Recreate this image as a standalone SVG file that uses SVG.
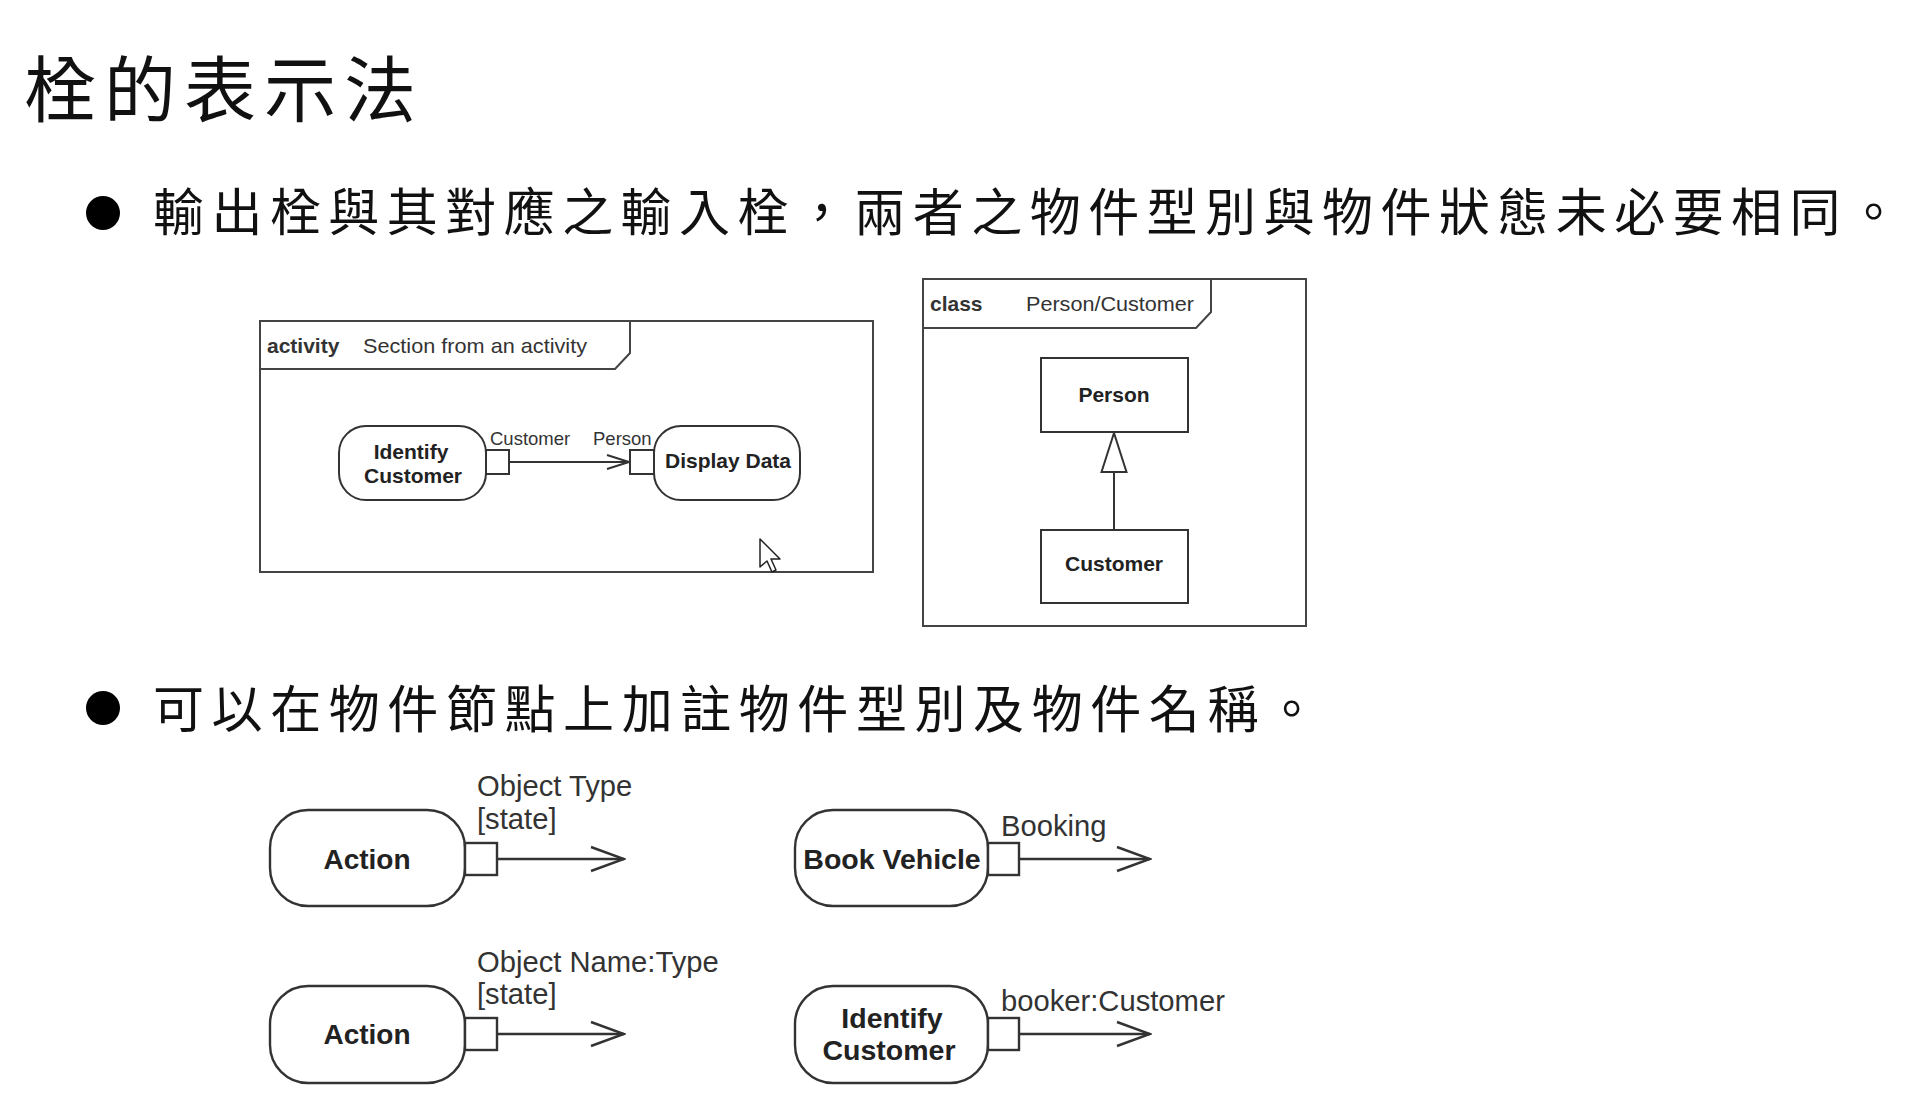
<svg xmlns="http://www.w3.org/2000/svg" width="1918" height="1110" viewBox="0 0 1918 1110">
<style>
.cjk{font-family:"Noto Sans CJK TC","Noto Sans CJK SC",sans-serif;fill:#111;}
.frame{fill:none;stroke:#444;stroke-width:2;}
.node{fill:#fff;stroke:#333;stroke-width:2;}
.pin{fill:#fff;stroke:#333;stroke-width:2;}
.bnode{fill:#fff;stroke:#333;stroke-width:2.4;}
.bpin{fill:#fff;stroke:#333;stroke-width:2.4;}
.b{font-family:"Liberation Sans",Arial,sans-serif;font-weight:bold;fill:#222;text-anchor:middle;}
.r{font-family:"Liberation Sans",Arial,sans-serif;fill:#333;}
.edge{fill:none;stroke:#333;stroke-width:2;}
.bedge{fill:none;stroke:#333;stroke-width:2.4;}
</style>
<defs>
<marker id="openS" markerUnits="userSpaceOnUse" viewBox="0 0 24 16" refX="23" refY="8" markerWidth="24" markerHeight="16" orient="auto">
<path d="M1,1 L23,8 L1,15" fill="none" stroke="#333" stroke-width="2"/>
</marker>
<marker id="openB" markerUnits="userSpaceOnUse" viewBox="0 0 36 28" refX="34" refY="14" markerWidth="36" markerHeight="28" orient="auto">
<path d="M1,2 L34,14 L1,26" fill="none" stroke="#333" stroke-width="2.4"/>
</marker>
<marker id="gen" markerUnits="userSpaceOnUse" viewBox="0 0 42 28" refX="40" refY="14" markerWidth="42" markerHeight="28" orient="auto">
<path d="M1,1.5 L40,14 L1,26.5 Z" fill="#fff" stroke="#333" stroke-width="2"/>
</marker>
</defs>
<rect width="1918" height="1110" fill="#fff"/>

<g id="title">
<text class="cjk" x="24" y="116" font-size="72" textLength="392" lengthAdjust="spacing">栓的表示法</text>
</g>

<g id="bullet1">
<circle cx="103" cy="213" r="17" fill="#000"/>
<text class="cjk" x="153" y="231" font-size="51" textLength="1746" lengthAdjust="spacing">輸出栓與其對應之輸入栓，兩者之物件型別與物件狀態未必要相同。</text>
</g>

<g id="bullet2">
<circle cx="103" cy="708" r="17" fill="#000"/>
<text class="cjk" x="153" y="728" font-size="51" textLength="1164" lengthAdjust="spacing">可以在物件節點上加註物件型別及物件名稱。</text>
</g>

<!-- Activity frame -->
<g id="activity-frame">
<rect class="frame" x="260" y="321" width="613" height="251"/>
<path class="frame" d="M260,369 L615,369 L630,353 L630,321"/>
<text class="r" x="267" y="353" font-size="21" font-weight="bold" fill="#222">activity</text>
<text class="r" x="363" y="353" font-size="21" textLength="224" lengthAdjust="spacingAndGlyphs">Section from an activity</text>
</g>

<g id="identify-customer-1">
<rect class="node" x="339" y="426" width="147" height="74" rx="27" ry="27"/>
<text class="b" x="411" y="459" font-size="21">Identify</text>
<text class="b" x="413" y="483" font-size="21">Customer</text>
</g>
<g id="pin-out-1">
<rect class="pin" x="486" y="450" width="23" height="24"/>
<text class="r" x="490" y="445" font-size="18.5">Customer</text>
</g>
<g id="pin-in-1">
<rect class="pin" x="630" y="450" width="24" height="24"/>
<text class="r" x="593" y="445" font-size="18.5">Person</text>
</g>
<g id="display-data">
<rect class="node" x="654" y="426" width="146" height="74" rx="27" ry="27"/>
<text class="b" x="728" y="468" font-size="21">Display Data</text>
</g>

<!-- Class frame -->
<g id="class-frame">
<rect class="frame" x="923" y="279" width="383" height="347"/>
<path class="frame" d="M923,328 L1196,328 L1211,312 L1211,279"/>
<text class="r" x="930" y="311" font-size="21" font-weight="bold" fill="#222">class</text>
<text class="r" x="1026" y="311" font-size="21" textLength="168" lengthAdjust="spacingAndGlyphs">Person/Customer</text>
</g>
<g id="person">
<rect class="node" x="1041" y="358" width="147" height="74"/>
<text class="b" x="1114" y="402" font-size="21">Person</text>
</g>
<g id="customer">
<rect class="node" x="1041" y="530" width="147" height="73"/>
<text class="b" x="1114" y="571" font-size="21">Customer</text>
</g>

<!-- Bottom examples -->
<g id="action-1">
<rect class="bnode" x="270" y="810" width="195" height="96" rx="38" ry="38"/>
<text class="b" x="367" y="869" font-size="28">Action</text>
</g>
<g id="pin-action-1">
<rect class="bpin" x="465" y="843" width="32" height="32"/>
<text class="r" x="477" y="796" font-size="29.2">Object Type</text>
<text class="r" x="477" y="829" font-size="29.2">[state]</text>
</g>

<g id="action-2">
<rect class="bnode" x="270" y="986" width="195" height="97" rx="38" ry="38"/>
<text class="b" x="367" y="1044" font-size="28">Action</text>
</g>
<g id="pin-action-2">
<rect class="bpin" x="465" y="1018" width="32" height="32"/>
<text class="r" x="477" y="972" font-size="29.2">Object Name:Type</text>
<text class="r" x="477" y="1004" font-size="29.2">[state]</text>
</g>

<g id="book-vehicle">
<rect class="bnode" x="795" y="810" width="193" height="96" rx="38" ry="38"/>
<text class="b" x="892" y="869" font-size="28.5">Book Vehicle</text>
</g>
<g id="pin-book-vehicle">
<rect class="bpin" x="988" y="843" width="31" height="32"/>
<text class="r" x="1001" y="836" font-size="29.2">Booking</text>
</g>

<g id="identify-customer-2">
<rect class="bnode" x="795" y="986" width="193" height="97" rx="38" ry="38"/>
<text class="b" x="892" y="1028" font-size="28.5">Identify</text>
<text class="b" x="889" y="1060" font-size="28.5">Customer</text>
</g>
<g id="pin-identify-customer-2">
<rect class="bpin" x="988" y="1018" width="31" height="32"/>
<text class="r" x="1001" y="1011" font-size="29.2">booker:Customer</text>
</g>

<g id="connectors">
<line class="edge" x1="509" y1="462" x2="629" y2="462" marker-end="url(#openS)"/>
<line class="edge" x1="1114" y1="530" x2="1114" y2="433" marker-end="url(#gen)"/>
<line class="bedge" x1="497" y1="859" x2="624" y2="859" marker-end="url(#openB)"/>
<line class="bedge" x1="497" y1="1034" x2="624" y2="1034" marker-end="url(#openB)"/>
<line class="bedge" x1="1019" y1="859" x2="1150" y2="859" marker-end="url(#openB)"/>
<line class="bedge" x1="1019" y1="1034" x2="1150" y2="1034" marker-end="url(#openB)"/>
</g>

<g id="cursor">
<path d="M760,539 L760,567 L767,561 L772,572 L776,570 L771,559 L780,559 Z" fill="#fff" stroke="#222" stroke-width="1.5" stroke-linejoin="round"/>
</g>
</svg>
